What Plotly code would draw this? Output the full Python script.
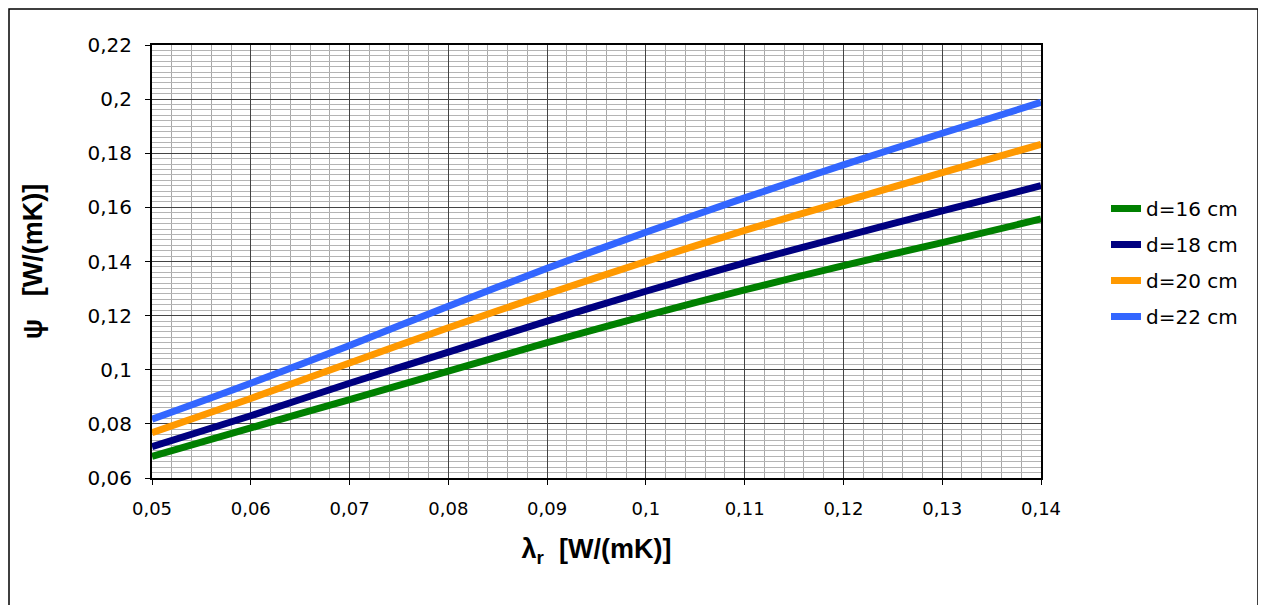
import plotly.graph_objects as go

# ---- data ----
lam = [0.05, 0.06, 0.07, 0.08, 0.09, 0.10, 0.11, 0.12, 0.13, 0.14]
d16 = [0.068, 0.0785, 0.089, 0.0995, 0.110, 0.1200, 0.1295, 0.1385, 0.147, 0.1557]
d18 = [0.0716, 0.083, 0.095, 0.1065, 0.118, 0.1290, 0.1395, 0.1492, 0.1587, 0.168]
d20 = [0.0767, 0.0894, 0.1025, 0.1155, 0.128, 0.1400, 0.1515, 0.1621, 0.1728, 0.1833]
d22 = [0.0817, 0.095, 0.109, 0.1235, 0.1375, 0.1508, 0.1635, 0.1757, 0.1874, 0.1988]
series_names = ["d=16 cm", "d=18 cm", "d=20 cm", "d=22 cm"]
series_colors = ["#008000", "#000080", "#FF9900", "#3366FF"]

x_tickvals = [0.05, 0.06, 0.07, 0.08, 0.09, 0.10, 0.11, 0.12, 0.13, 0.14]
x_ticktext = ["0,05", "0,06", "0,07", "0,08", "0,09", "0,1", "0,11", "0,12", "0,13", "0,14"]
y_tickvals = [0.06, 0.08, 0.10, 0.12, 0.14, 0.16, 0.18, 0.20, 0.22]
y_ticktext = ["0,06", "0,08", "0,1", "0,12", "0,14", "0,16", "0,18", "0,2", "0,22"]

# page offset of the figure div (browser body margin)
OFF = 8
W, H = 1266, 605
L, T = 152 - OFF, 45 - OFF
pw, ph = 889, 433
R = W - L - pw
B = H - T - ph

def px_x(page_x):
    return (page_x - OFF - L) / pw

def px_y(page_y):
    return (T + ph - (page_y - OFF)) / ph

fig = go.Figure()
for name, ys, col in zip(series_names, [d16, d18, d20, d22], series_colors):
    fig.add_trace(go.Scatter(
        x=lam, y=ys, name=name, mode="lines",
        line=dict(color=col, width=7, shape="spline", smoothing=0.8),
        legendgroup=name,
    ))

tick_font = "DejaVu Sans, Liberation Sans, Arial, sans-serif"
title_font = "Liberation Sans, Arial, sans-serif"
fig.update_layout(
    width=W, height=H,
    margin=dict(l=L, r=R, t=T, b=B),
    paper_bgcolor="white", plot_bgcolor="white",
    font=dict(family=tick_font, color="black", size=18),
    showlegend=True,
    legend=dict(
        x=px_x(1106), y=px_y(189), xanchor="left", yanchor="top",
        font=dict(size=20, family=tick_font), tracegroupgap=7,
        bgcolor="rgba(0,0,0,0)", itemwidth=30,
    ),
    xaxis=dict(
        range=[0.05, 0.14], tickvals=x_tickvals, ticktext=x_ticktext,
        showgrid=True, gridcolor="#444444", gridwidth=1,
        minor=dict(dtick=0.002, showgrid=True, gridcolor="#a8a8a8", gridwidth=1),
        ticks="outside", ticklen=5, tickcolor="black", ticklabelstandoff=8,
        showline=True, linecolor="black", linewidth=2, mirror=True,
        zeroline=False, tickfont=dict(size=18, family=tick_font),
        title=dict(text="<b>λ<sub>r</sub>  [W/(mK)]</b>",
                   font=dict(size=27, family=title_font), standoff=22),
    ),
    yaxis=dict(
        range=[0.06, 0.22], tickvals=y_tickvals, ticktext=y_ticktext,
        showgrid=True, gridcolor="#444444", gridwidth=1,
        minor=dict(dtick=0.002, showgrid=True, gridcolor="#b4b4b4", gridwidth=1),
        ticks="outside", ticklen=5, tickcolor="black", ticklabelstandoff=9,
        showline=True, linecolor="black", linewidth=2, mirror=True,
        zeroline=False, tickfont=dict(size=20, family=tick_font),
        title=dict(text="<b>ψ   [W/(mK)]</b>",
                   font=dict(size=27, family=title_font), standoff=37),
    ),
    shapes=[dict(
        type="rect", xref="paper", yref="paper",
        x0=px_x(OFF + 1), x1=px_x(1258),
        y0=px_y(640), y1=px_y(OFF + 1),
        line=dict(color="black", width=1.5), fillcolor="rgba(0,0,0,0)", layer="below",
    )],
)

fig.write_html("out.html")
